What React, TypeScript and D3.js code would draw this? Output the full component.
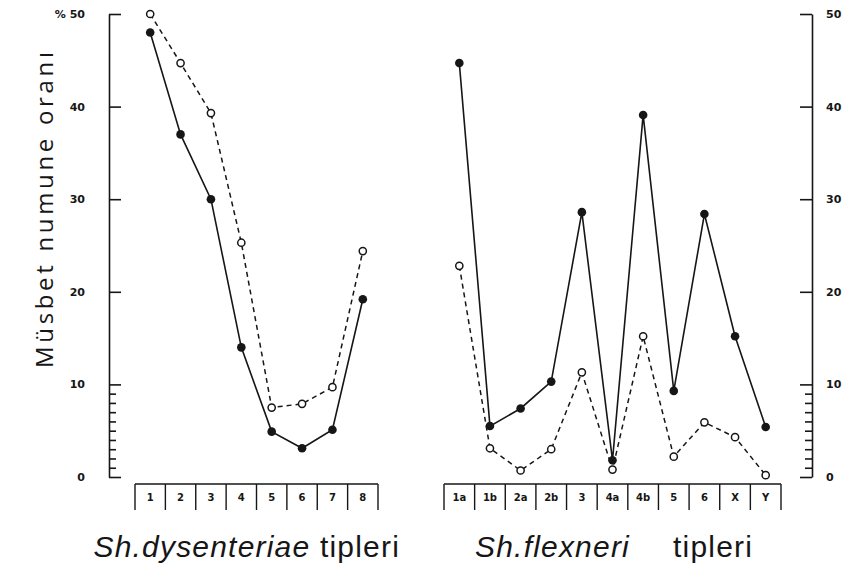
'use client';

import * as d3 from 'd3';
import React, { useEffect, useRef } from 'react';

// Sh. dysenteriae types
const leftCats = ["1", "2", "3", "4", "5", "6", "7", "8"];
const leftFilled = [48, 37, 30, 14, 4.9, 3.1, 5.1, 19.2];
const leftOpen = [50, 44.7, 39.3, 25.3, 7.5, 7.9, 9.7, 24.4];

// Sh. flexneri types
const rightCats = ["1a", "1b", "2a", "2b", "3", "4a", "4b", "5", "6", "X", "Y"];
const rightFilled = [44.7, 5.5, 7.4, 10.3, 28.6, 1.8, 39.1, 9.3, 28.4, 15.2, 5.4];
const rightOpen = [22.8, 3.1, 0.7, 3.0, 11.3, 0.8, 15.2, 2.2, 5.9, 4.3, 0.2];

const yTicks = [0, 10, 20, 30, 40, 50];
const minorTicks = [1, 2, 3, 4, 5, 6, 7, 8, 9];

const INK = "#161616";

const Chart = () => {
	const svgRef = useRef(null);

	useEffect(() => {
		const width = 859;
		const height = 577;

		const svg = d3.select(svgRef.current)
			.attr("width", width)
			.attr("height", height);

		svg.append("rect")
			.attr("width", width)
			.attr("height", height)
			.attr("fill", "#fff");

		const y = d3.scaleLinear()
			.domain([0, 50])
			.range([477, 14]);

		const xLeft = d3.scaleBand()
			.domain(leftCats)
			.range([135, 378]);

		const xRight = d3.scaleBand()
			.domain(rightCats)
			.range([444, 781]);

		// left axis
		const leftAxis = svg.append("g")
			.attr("transform", "translate(109,0)")
			.call(d3.axisLeft(y)
				.tickValues(yTicks)
				.tickSizeInner(-12)
				.tickSizeOuter(0)
				.tickPadding(24)
				.tickFormat((d) => (d === 50 ? "% 50" : String(d))));

		svg.append("g")
			.attr("transform", "translate(109,0)")
			.call(d3.axisLeft(y)
				.tickValues(minorTicks)
				.tickSizeInner(-7)
				.tickSizeOuter(0)
				.tickFormat(() => ""))
			.select(".domain").remove();

		// right axis
		const rightAxis = svg.append("g")
			.attr("transform", "translate(812,0)")
			.call(d3.axisRight(y)
				.tickValues(yTicks)
				.tickSizeInner(-12)
				.tickSizeOuter(0)
				.tickPadding(14));

		svg.append("g")
			.attr("transform", "translate(812,0)")
			.call(d3.axisRight(y)
				.tickValues(minorTicks)
				.tickSizeInner(-7)
				.tickSizeOuter(0)
				.tickFormat(() => ""))
			.select(".domain").remove();

		svg.selectAll(".domain, .tick line")
			.attr("stroke", INK)
			.attr("stroke-width", 1.6);

		[leftAxis, rightAxis].forEach((ax) => {
			ax.selectAll("text")
				.attr("fill", INK)
				.style("font-family", "DejaVu Sans")
				.style("font-size", "11px")
				.style("font-weight", "bold");
		});

		// y-axis title
		svg.append("text")
			.attr("transform", "translate(53,210) rotate(-90)")
			.attr("text-anchor", "middle")
			.attr("textLength", 316)
			.attr("lengthAdjust", "spacing")
			.attr("fill", INK)
			.style("font-family", "Open Sans")
			.style("font-size", "24px")
			.text("Müsbet numune oranı");

		const drawPanel = (x, cats, filled, open) => {
			const g = svg.append("g");
			const cx = (c) => x(c) + x.bandwidth() / 2;
			const [x0, x1] = x.range();

			// category boxes
			g.append("line")
				.attr("x1", x0).attr("x2", x1)
				.attr("y1", 484).attr("y2", 484)
				.attr("stroke", INK).attr("stroke-width", 1.6);

			g.selectAll(".div")
				.data([...cats.map((c) => x(c)), x1])
				.join("line")
				.attr("x1", (d) => d).attr("x2", (d) => d)
				.attr("y1", 484).attr("y2", 510)
				.attr("stroke", INK).attr("stroke-width", 1.4);

			g.selectAll(".cat")
				.data(cats)
				.join("text")
				.attr("x", cx)
				.attr("y", 501)
				.attr("text-anchor", "middle")
				.attr("fill", INK)
				.style("font-family", "DejaVu Sans")
				.style("font-size", "10px")
				.style("font-weight", "bold")
				.text((d) => d);

			const line = d3.line()
				.x((d, i) => cx(cats[i]))
				.y((d) => y(d));

			g.append("path")
				.datum(open)
				.attr("d", line)
				.attr("fill", "none")
				.attr("stroke", INK)
				.attr("stroke-width", 1.5)
				.attr("stroke-dasharray", "5,4");

			g.append("path")
				.datum(filled)
				.attr("d", line)
				.attr("fill", "none")
				.attr("stroke", INK)
				.attr("stroke-width", 1.6);

			g.selectAll(".open")
				.data(open)
				.join("circle")
				.attr("cx", (d, i) => cx(cats[i]))
				.attr("cy", (d) => y(d))
				.attr("r", 3.6)
				.attr("fill", "#fff")
				.attr("stroke", INK)
				.attr("stroke-width", 1.5);

			g.selectAll(".filled")
				.data(filled)
				.join("circle")
				.attr("cx", (d, i) => cx(cats[i]))
				.attr("cy", (d) => y(d))
				.attr("r", 4.3)
				.attr("fill", INK);
		};

		drawPanel(xLeft, leftCats, leftFilled, leftOpen);
		drawPanel(xRight, rightCats, rightFilled, rightOpen);

		// panel titles
		const title = (x, anchor, parts) => {
			const t = svg.append("text")
				.attr("x", x)
				.attr("y", 557)
				.attr("text-anchor", anchor)
				.attr("fill", INK)
				.style("font-family", "Liberation Sans")
				.style("font-size", "30px")
				.style("letter-spacing", "1.2px");
			parts.forEach(([s, italic]) => {
				t.append("tspan")
					.style("font-style", italic ? "italic" : "normal")
					.text(s);
			});
		};

		title(400, "end", [["Sh.dysenteriae", true], ["  tipleri", false]]);
		title(475, "start", [["Sh.flexneri", true]]);
		title(673, "start", [["tipleri", false]]);

		return () => {
			d3.select(svgRef.current).selectAll("*").remove();
		};
	}, []);

	return (
		<svg ref={svgRef} style={{ position: "absolute", left: 0, top: 0 }} />
	);
};

export default function App() {
	return <Chart />;
}
